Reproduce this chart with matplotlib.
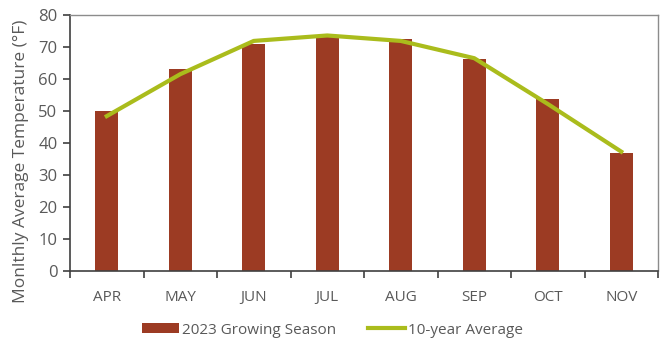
import numpy as np
import matplotlib
matplotlib.use('Agg')
import matplotlib.pyplot as plt

# 月份与温度数据（°F）
months = ['APR', 'MAY', 'JUN', 'JUL', 'AUG', 'SEP', 'OCT', 'NOV']
season_2023 = [50, 63, 71, 73.5, 72.5, 66.3, 53.8, 36.8]
avg_10yr = [48.4, 61.5, 71.9, 73.6, 71.9, 66.5, 52.2, 37.3]

bar_color = '#9C3B23'
line_color = '#AABC1C'
text_color = '#595959'

plt.rcParams['font.family'] = ['Open Sans', 'DejaVu Sans']

fig = plt.figure(figsize=(6.65, 3.41), dpi=100)
ax = fig.add_axes([70 / 665, 1 - 271 / 341, 588 / 665, 256 / 341])

x = np.arange(len(months))
bars = ax.bar(x, season_2023, width=0.31, color=bar_color, label='2023 Growing Season', zorder=2)
line, = ax.plot(x, avg_10yr, color=line_color, linewidth=3, label='10-year Average', zorder=3)

ax.set_xlim(-0.5, len(months) - 0.5)
ax.set_ylim(0, 80)
ax.set_yticks(range(0, 81, 10))

# x轴刻度放在分类边界，标签放在中心
ax.set_xticks(np.arange(-0.5, len(months), 1.0))
ax.set_xticklabels([])
ax.set_xticks(x, minor=True)
ax.set_xticklabels(months, minor=True)
ax.tick_params(axis='x', which='minor', length=0, pad=14, labelsize=11, colors=text_color)
ax.tick_params(axis='x', which='major', length=5, direction='out', color='#404040', width=1.2)
ax.tick_params(axis='y', length=5, direction='out', color='#404040', width=1.2,
               labelsize=12, labelcolor=text_color, pad=4)

for side in ['left', 'bottom']:
    ax.spines[side].set_color('#404040')
    ax.spines[side].set_linewidth(1.2)
for side in ['top', 'right']:
    ax.spines[side].set_color('#8C8C8C')
    ax.spines[side].set_linewidth(1.0)

ax.set_ylabel('Monlthly Average Temperature (°F)', fontsize=12.5, color=text_color)
ax.yaxis.set_label_coords(-0.07, 0.43)

leg = fig.legend([bars, line], ['2023 Growing Season', '10-year Average'],
                 loc='center', bbox_to_anchor=(0.5, 1 - 330 / 341), ncol=2, frameon=False,
                 fontsize=11, handlelength=2.4, handleheight=0.55, columnspacing=2.1,
                 handletextpad=0.2)
for t in leg.get_texts():
    t.set_color(text_color)

fig.savefig('out.png', dpi=100, facecolor='white')
